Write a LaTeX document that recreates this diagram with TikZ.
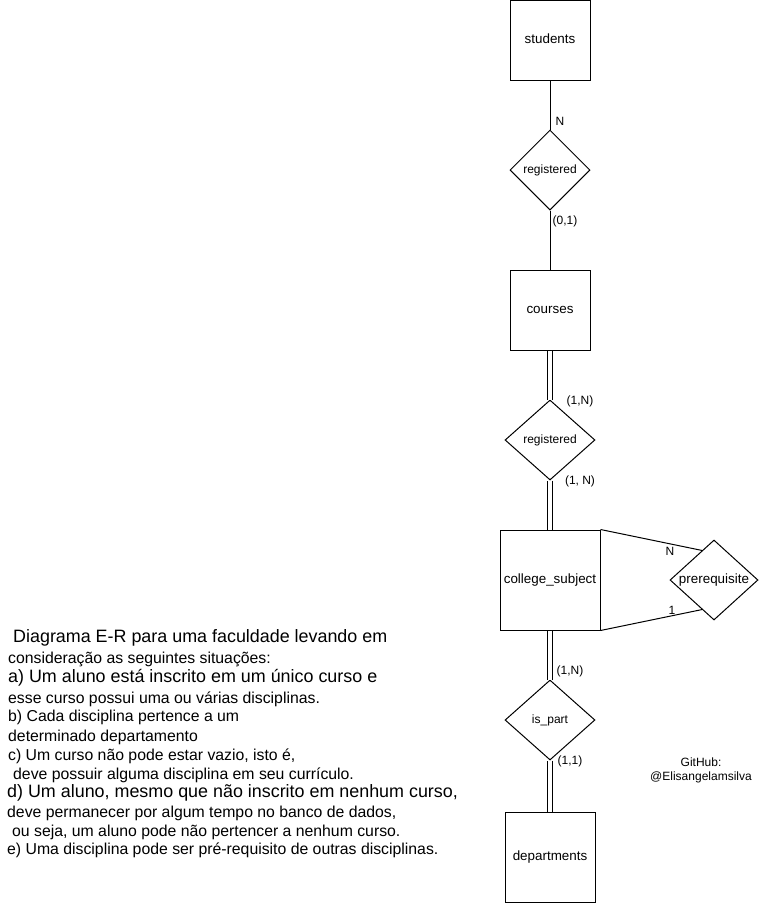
\documentclass[tikz,border=0pt]{standalone}
\usepackage{fontspec}
\setmainfont{Liberation Sans}
\usetikzlibrary{shapes.geometric,calc}

\tikzset{
  entity/.style={draw, line width=1pt, minimum width=80pt, minimum height=80pt,
    inner sep=0pt, text height=0.85em, text depth=0.2em, font=\fontsize{13.4}{15}\selectfont},
  relation/.style={draw, diamond, line width=1pt, minimum width=90pt,
    minimum height=80pt, inner sep=0pt, text height=0.85em, text depth=0.2em,
    font=\fontsize{12}{14}\selectfont},
  card/.style={inner sep=0pt, font=\fontsize{12}{14}\selectfont},
  link/.style={line width=1pt, double, double distance=4pt},
  plainlink/.style={line width=1pt},
  note/.style={anchor=base west, inner sep=0pt}
}

\begin{document}
\begin{tikzpicture}[x=1pt, y=-1pt]
      \useasboundingbox (0,0) rectangle (762,903);
      % entities
      \node[entity] (students) at (550,40) {students};
      \node[entity] (courses) at (550,310) {courses};
      \node[entity, minimum width=100pt, minimum height=100pt] (cs) at (550,580) {college\_subject};
      \node[entity, minimum width=90pt, minimum height=90pt] (departments) at (550,857) {departments};
      % relationships
      \node[relation, minimum width=80pt] (reg1) at (550,170) {registered};
      \node[relation] (reg2) at (550,440) {registered};
      \node[relation, minimum width=88pt, aspect=1.1, font=\fontsize{13.4}{15}\selectfont] (prereq) at (714,580) {prerequisite};
      \node[relation] (ispart) at (550,720) {is\_part};
      % connectors
      \draw[plainlink] (students) -- (reg1);
      \draw[plainlink] (reg1) -- (courses);
      \draw[link] (courses) -- (reg2);
      \draw[link] (reg2) -- (cs);
      \draw[link] (cs) -- (ispart);
      \draw[link] (ispart) -- (departments);
      \draw[plainlink] (cs.north east) -- ($(prereq.west)!0.73!(prereq.north)$);
      \draw[plainlink] (cs.south east) -- ($(prereq.west)!0.73!(prereq.south)$);
      % cardinalities
      \node[card] (c1) at (560,121) {N};
      \node[card] (c2) at (565,221) {(0,1)};
      \node[card] (c3) at (580,401) {(1,N)};
      \node[card] (c4) at (580,481) {(1, N)};
      \node[card] (c5) at (570,671) {(1,N)};
      \node[card] (c6) at (570,761) {(1,1)};
      \node[card] (c7) at (670,551) {N};
      \node[card] (c8) at (672,610) {1};
      % description
      \foreach \i/\x/\y/\s/\t in {
        1/13/642/17.9/{Diagrama E-R para uma faculdade levando em},
        2/8/663/15.8/{consideração as seguintes situações:},
        3/8/682.6/17.9/{a) Um aluno está inscrito em um único curso e},
        4/8/703/15.8/{esse curso possui uma ou várias disciplinas.},
        5/8/721/15.8/{b) Cada disciplina pertence a um},
        6/8/741/15.8/{determinado departamento},
        7/8/760/15.8/{c) Um curso não pode estar vazio, isto é,},
        8/13/779/15.8/{deve possuir alguma disciplina em seu currículo.},
        9/7/797.5/17.9/{d) Um aluno, mesmo que não inscrito em nenhum curso,},
        10/7/817/15.8/{deve permanecer por algum tempo no banco de dados,},
        11/12/836/15.8/{ou seja, um aluno pode não pertencer a nenhum curso.},
        12/7/854/15.8/{e) Uma disciplina pode ser pré-requisito de outras disciplinas.}}
        \node[note, font=\fontsize{\s}{\s}\selectfont] (note\i) at (\x,\y) {\t};
      \node[align=center, inner sep=0pt, font=\fontsize{12}{14}\selectfont] (github) at (701,770) {GitHub:\\@Elisangelamsilva};
    \end{tikzpicture}
\end{document}
